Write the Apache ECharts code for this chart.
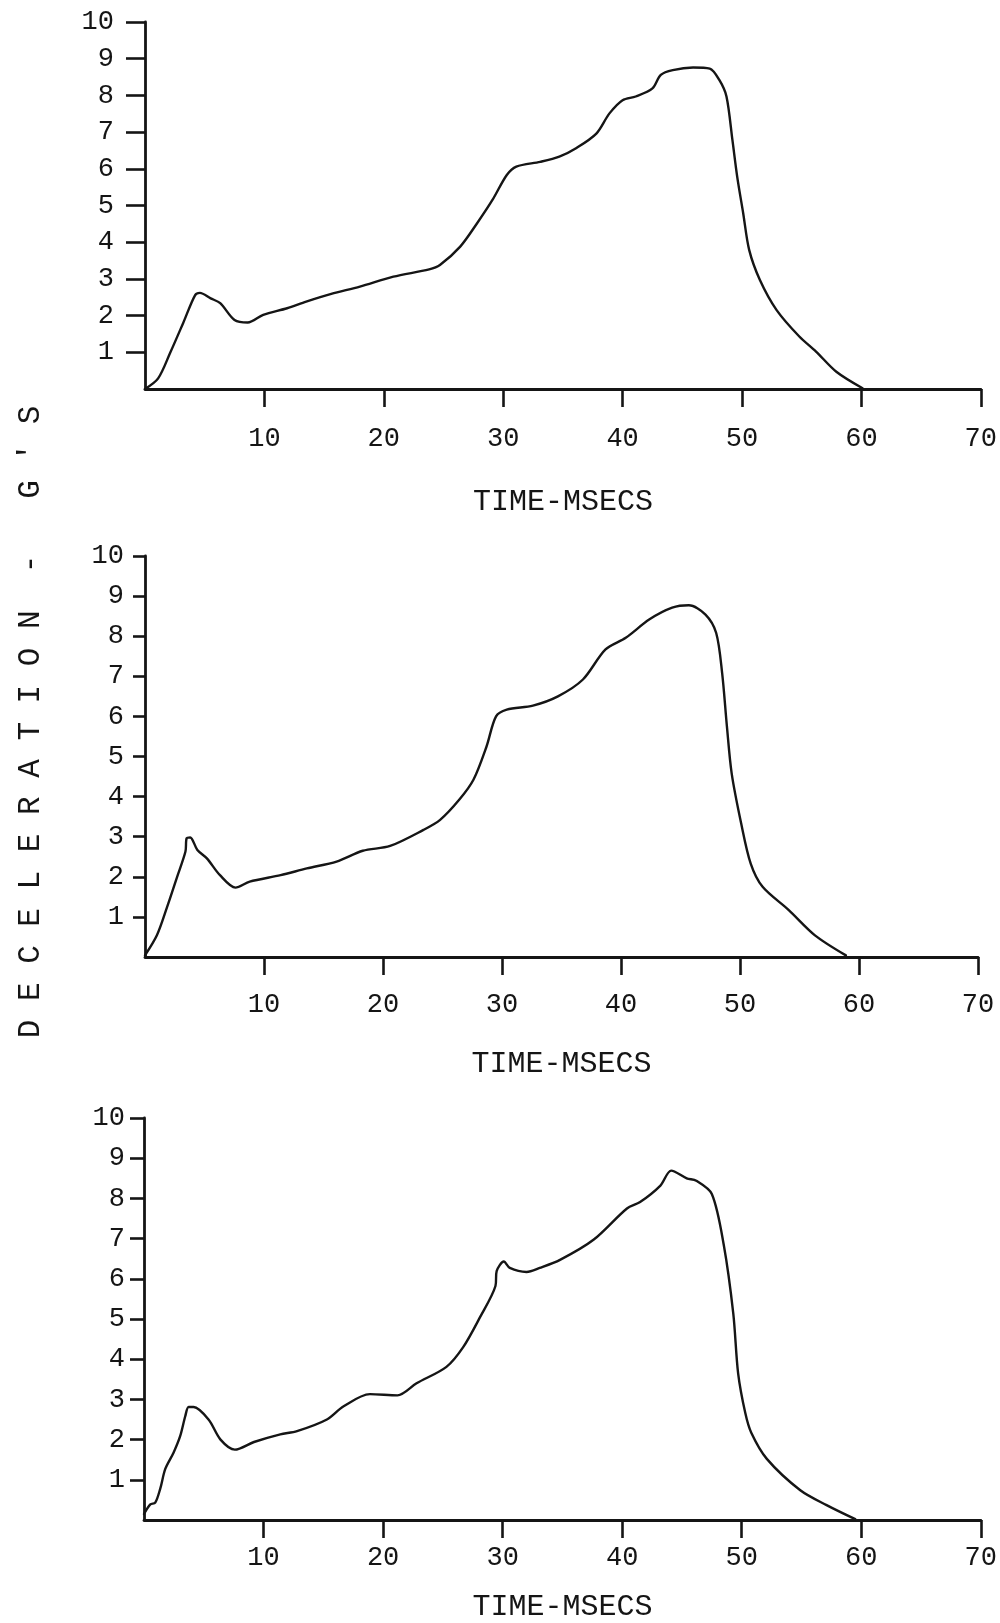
<!DOCTYPE html>
<html>
<head>
<meta charset="utf-8">
<script src="https://cdn.jsdelivr.net/npm/echarts@6/dist/echarts.min.js"></script>
<style>
html,body{margin:0;padding:0;background:#fff;}
#chart{width:1000px;height:1623px;}
</style>
</head>
<body>
<div id="chart"></div>
<script>
// ---- data ----
var xTicks = [10, 20, 30, 40, 50, 60, 70];
var yTicks = [1, 2, 3, 4, 5, 6, 7, 8, 9, 10];
var xTitle = 'TIME-MSECS';
var yTitle = "D E C E L E R A T I O N  -   G ' S";

var topTime = [0, 1.1, 2.1, 3.2, 4.2, 4.6, 5.5, 6.3, 7.5, 8.6, 9.9, 11.9, 13.5, 15.6, 18.0, 20.8, 23.8, 24.7, 26.4, 27.8, 29.1, 30.3, 31.1, 33.1, 34.7, 36.1, 37.8, 38.9, 40.0, 41.1, 42.5, 43.2, 44.2, 45.9, 47.3, 48.1, 48.7, 49.2, 49.6, 50.1, 50.6, 51.5, 52.9, 54.8, 56.2, 57.9, 60.1];
var topG    = [0, 0.29, 0.98, 1.8, 2.56, 2.62, 2.47, 2.34, 1.88, 1.81, 2.02, 2.2, 2.38, 2.59, 2.79, 3.06, 3.26, 3.38, 3.88, 4.51, 5.15, 5.83, 6.06, 6.19, 6.33, 6.56, 6.96, 7.51, 7.87, 7.97, 8.19, 8.56, 8.69, 8.76, 8.73, 8.42, 7.97, 6.78, 5.78, 4.79, 3.79, 2.97, 2.15, 1.43, 1.02, 0.47, 0.02];

var midTime = [0, 1.0, 1.86, 2.7, 3.4, 3.5, 3.8, 4.4, 5.2, 6.3, 7.6, 8.8, 11.4, 13.6, 16.1, 18.3, 20.6, 23.4, 24.8, 26.4, 27.6, 28.7, 29.5, 30.4, 32.6, 34.7, 36.8, 38.7, 40.4, 42.4, 44.3, 45.7, 47.1, 48.0, 48.5, 48.9, 49.3, 50.1, 50.9, 51.9, 54.1, 56.3, 58.9];
var midG    = [0.04, 0.54, 1.25, 2.0, 2.63, 2.96, 2.98, 2.67, 2.46, 2.04, 1.73, 1.88, 2.04, 2.21, 2.38, 2.65, 2.77, 3.17, 3.42, 3.92, 4.42, 5.25, 6.0, 6.17, 6.27, 6.5, 6.92, 7.67, 7.96, 8.42, 8.71, 8.77, 8.54, 8.08, 7.08, 5.75, 4.58, 3.33, 2.33, 1.75, 1.17, 0.54, 0.04];

var botTime = [0, 0.53, 0.94, 1.36, 1.78, 2.48, 3.03, 3.45, 3.73, 4.15, 5.4, 6.4, 7.6, 9.2, 11.4, 12.8, 15.3, 16.7, 18.9, 21.2, 22.8, 25.3, 26.7, 28.1, 29.4, 29.5, 30.1, 30.6, 32.0, 33.1, 34.8, 37.6, 40.4, 41.5, 43.2, 44.1, 45.4, 46.2, 47.5, 48.5, 49.3, 49.7, 50.3, 50.8, 52.1, 54.9, 57.1, 59.5];
var botG    = [0.15, 0.39, 0.43, 0.78, 1.27, 1.68, 2.09, 2.58, 2.81, 2.81, 2.5, 2.0, 1.75, 1.94, 2.13, 2.21, 2.5, 2.83, 3.13, 3.1, 3.4, 3.81, 4.30, 5.04, 5.82, 6.19, 6.43, 6.27, 6.17, 6.27, 6.47, 6.97, 7.75, 7.91, 8.32, 8.69, 8.5, 8.44, 8.11, 6.84, 5.12, 3.65, 2.66, 2.17, 1.52, 0.74, 0.37, 0.02];

function pairs(t, g) { return t.map(function (v, i) { return [v, g[i]]; }); }

var INK = '#151515';
var FONT = 'Liberation Mono';

var panels = [
  {grid: {left: 145, top: 22, width: 836, height: 367}, yTick: 19, yMargin: 31, xMargin: 36, nameGap: 98, data: pairs(topTime, topG)},
  {grid: {left: 145, top: 556, width: 833, height: 401}, yTick: 12, yMargin: 21, xMargin: 34, nameGap: 92, data: pairs(midTime, midG)},
  {grid: {left: 144, top: 1118, width: 837, height: 407}, yTick: 14, yMargin: 19, xMargin: 24, nameGap: 72, data: pairs(botTime, botG)}
];

var option = {
  animation: false,
  backgroundColor: '#ffffff',
  grid: [], xAxis: [], yAxis: [], series: [],
  graphic: [{
    type: 'text',
    x: 31, y: 722,
    rotation: Math.PI / 2,
    style: {
      text: yTitle,
      fill: INK,
      font: '31px "' + FONT + '"',
      textAlign: 'center',
      textVerticalAlign: 'middle'
    }
  }]
};

panels.forEach(function (p, i) {
  option.grid.push(Object.assign({containLabel: false}, p.grid));
  option.xAxis.push({
    type: 'value', gridIndex: i, min: 0, max: 70, interval: 10,
    name: xTitle, nameLocation: 'middle', nameGap: p.nameGap,
    nameTextStyle: {fontFamily: FONT, fontSize: 30, color: INK},
    axisLine: {show: true, onZero: false, lineStyle: {color: INK, width: 2.8}},
    axisTick: {show: true, inside: false, length: 18, customValues: xTicks, lineStyle: {color: INK, width: 2.6}},
    axisLabel: {show: true, margin: p.xMargin, customValues: xTicks, fontFamily: FONT, fontSize: 27, color: INK},
    splitLine: {show: false}
  });
  option.yAxis.push({
    type: 'value', gridIndex: i, min: 0, max: 10, interval: 1,
    axisLine: {show: true, onZero: false, lineStyle: {color: INK, width: 2.8}},
    axisTick: {show: true, inside: false, length: p.yTick, customValues: yTicks, lineStyle: {color: INK, width: 2.6}},
    axisLabel: {show: true, margin: p.yMargin, customValues: yTicks, fontFamily: FONT, fontSize: 27, color: INK},
    splitLine: {show: false}
  });
  option.series.push({
    type: 'line', xAxisIndex: i, yAxisIndex: i,
    data: p.data, showSymbol: false, symbol: 'none',
    smooth: 0.3,
    lineStyle: {color: INK, width: 2.4, join: 'round', cap: 'round'}
  });
});

var chart = echarts.init(document.getElementById('chart'), null, {renderer: 'canvas'});
chart.setOption(option);
</script>
</body>
</html>
